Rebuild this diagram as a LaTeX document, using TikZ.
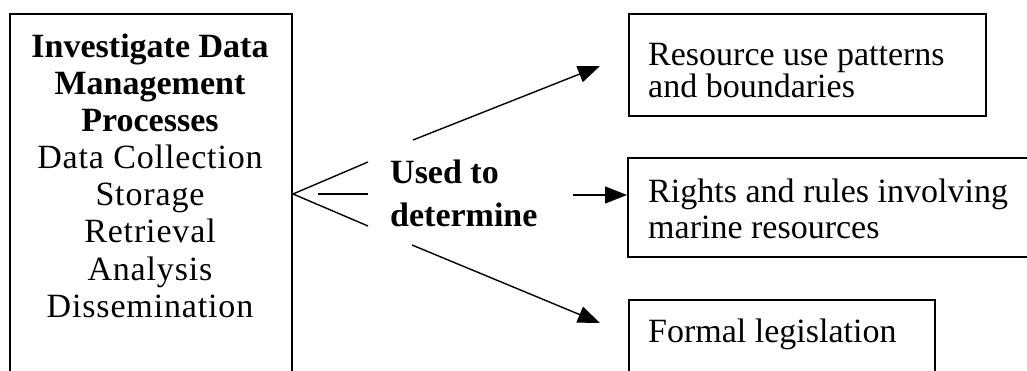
\documentclass[tikz,border=0pt]{standalone}
\usepackage{fontspec}
\setmainfont{Liberation Serif}
\newfontfamily\widefont[LetterSpace=2.5]{Liberation Serif}
\usetikzlibrary{arrows.meta}
\begin{document}
\begin{tikzpicture}[x=1pt,y=-1pt,
  frame/.style={draw=black, line width=2pt, inner sep=0pt, anchor=north west},
  txt/.style={font=\fontsize{34}{36}\selectfont, inner sep=0pt},
  widetxt/.style={font=\widefont\fontsize{34}{36}\selectfont, inner sep=0pt},
  boldtxt/.style={txt, font=\fontsize{34}{36}\selectfont\bfseries},
  link/.style={line width=1.4pt, -{Triangle[length=22pt,width=17pt]}},
  fanline/.style={line width=1.4pt}]
\useasboundingbox (0,0) rectangle (1027,371);
\clip (0,0) rectangle (1027,371);

% boxes
\node[frame, minimum width=282pt, minimum height=420pt] (proc) at (9,13) {};
\node[frame, minimum width=357pt, minimum height=102pt] (use) at (628,13) {};
\node[frame, minimum width=420pt, minimum height=99pt] (rights) at (627,157) {};
\node[frame, minimum width=306pt, minimum height=120pt] (law) at (628,299) {};

% process box text
\node[boldtxt, anchor=base] (p1) at (150,58) {Investigate Data};
\node[boldtxt, anchor=base] (p2) at (150,95) {Management};
\node[boldtxt, anchor=base] (p3) at (150,132) {Processes};
\node[widetxt, anchor=base] (p4) at (150,169) {Data Collection};
\node[widetxt, anchor=base] (p5) at (150,206) {Storage};
\node[widetxt, anchor=base] (p6) at (150,243) {Retrieval};
\node[widetxt, anchor=base] (p7) at (150,280) {Analysis};
\node[widetxt, anchor=base] (p8) at (150,317) {Dissemination};

% middle label
\node[boldtxt, anchor=base west] (u1) at (390,184) {Used to};
\node[boldtxt, anchor=base west] (u2) at (390,226) {determine};

% result box text
\node[txt, anchor=base west] (r1) at (648,66) {Resource use patterns};
\node[txt, anchor=base west] (r2) at (648,98) {and boundaries};
\node[txt, anchor=base west] (r3) at (648,203) {Rights and rules involving};
\node[txt, anchor=base west] (r4) at (648,239) {marine resources};
\node[txt, anchor=base west] (r5) at (648,342) {Formal legislation};

% fan out of the process box
\coordinate (fv) at (proc.east |- 0,194);
\coordinate (fa) at (368,162);
\coordinate (fb1) at (318,194);
\coordinate (fb2) at (368,194);
\coordinate (fc) at (368,226);
\draw[fanline] (fa) -- (fv) -- (fc);
\draw[fanline] (fb1) -- (fb2);

% arrows to the results
\coordinate (sa) at (413,140);
\coordinate (ta) at (600,66);
\coordinate (sb) at (573,195);
\coordinate (sc) at (412,245);
\coordinate (tc) at (600,323);
\draw[link] (sa) -- (ta);
\draw[link] (sb) -- (rights.west |- sb);
\draw[link] (sc) -- (tc);
\end{tikzpicture}
\end{document}
